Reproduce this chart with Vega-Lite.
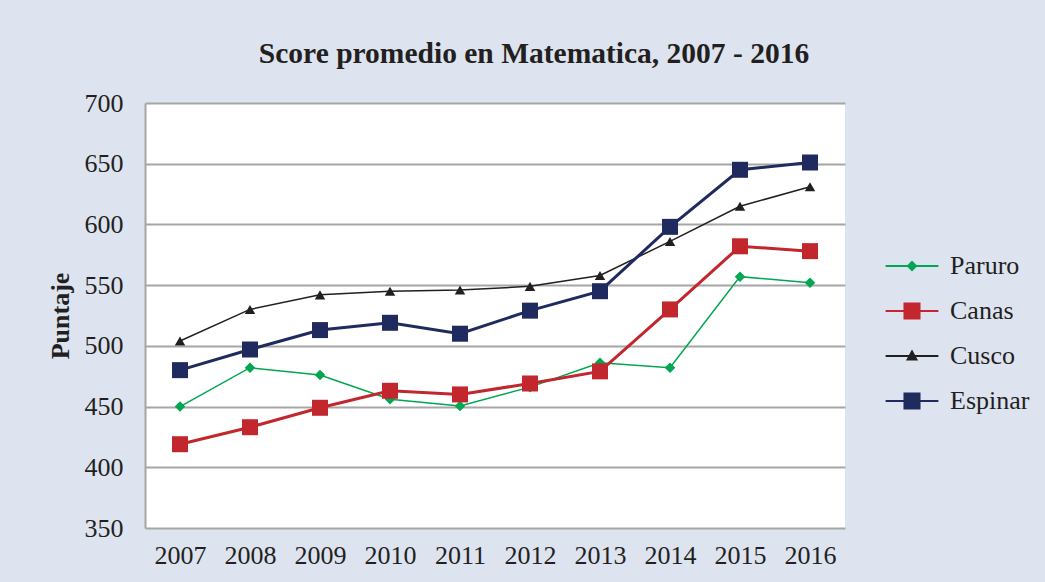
{
  "$schema": "https://vega.github.io/schema/vega-lite/v6.json",
  "width": 700,
  "height": 425,
  "autosize": {"type": "none"},
  "padding": {"left": 145, "top": 103, "right": 200, "bottom": 54},
  "background": "#dde4f0",
  "config": {
    "font": "Liberation Serif",
    "view": {"fill": "#ffffff", "stroke": null},
    "axis": {"labelFont": "Liberation Serif", "titleFont": "Liberation Serif", "labelColor": "#231f20", "titleColor": "#231f20"}
  },
  "title": {
    "text": "Score promedio en Matematica, 2007 - 2016",
    "fontSize": 29.5,
    "fontWeight": "bold",
    "font": "Liberation Serif",
    "color": "#231f20",
    "anchor": "middle",
    "dx": 39,
    "baseline": "alphabetic",
    "offset": -2
  },
  "data": {
    "values": [
      {"year": "2007", "region": "Paruro", "score": 450},
      {"year": "2008", "region": "Paruro", "score": 482},
      {"year": "2009", "region": "Paruro", "score": 476},
      {"year": "2010", "region": "Paruro", "score": 456},
      {"year": "2011", "region": "Paruro", "score": 450.5},
      {"year": "2012", "region": "Paruro", "score": 466},
      {"year": "2013", "region": "Paruro", "score": 486},
      {"year": "2014", "region": "Paruro", "score": 482},
      {"year": "2015", "region": "Paruro", "score": 557},
      {"year": "2016", "region": "Paruro", "score": 552},
      {"year": "2007", "region": "Canas", "score": 419},
      {"year": "2008", "region": "Canas", "score": 433},
      {"year": "2009", "region": "Canas", "score": 449},
      {"year": "2010", "region": "Canas", "score": 463},
      {"year": "2011", "region": "Canas", "score": 460},
      {"year": "2012", "region": "Canas", "score": 469},
      {"year": "2013", "region": "Canas", "score": 479},
      {"year": "2014", "region": "Canas", "score": 530},
      {"year": "2015", "region": "Canas", "score": 582},
      {"year": "2016", "region": "Canas", "score": 578},
      {"year": "2007", "region": "Cusco", "score": 504},
      {"year": "2008", "region": "Cusco", "score": 530},
      {"year": "2009", "region": "Cusco", "score": 542},
      {"year": "2010", "region": "Cusco", "score": 545},
      {"year": "2011", "region": "Cusco", "score": 546},
      {"year": "2012", "region": "Cusco", "score": 549},
      {"year": "2013", "region": "Cusco", "score": 558},
      {"year": "2014", "region": "Cusco", "score": 586},
      {"year": "2015", "region": "Cusco", "score": 615},
      {"year": "2016", "region": "Cusco", "score": 631},
      {"year": "2007", "region": "Espinar", "score": 480},
      {"year": "2008", "region": "Espinar", "score": 497},
      {"year": "2009", "region": "Espinar", "score": 513},
      {"year": "2010", "region": "Espinar", "score": 519},
      {"year": "2011", "region": "Espinar", "score": 510},
      {"year": "2012", "region": "Espinar", "score": 529},
      {"year": "2013", "region": "Espinar", "score": 545},
      {"year": "2014", "region": "Espinar", "score": 598},
      {"year": "2015", "region": "Espinar", "score": 645},
      {"year": "2016", "region": "Espinar", "score": 651}
    ]
  },
  "encoding": {
    "x": {
      "field": "year",
      "type": "ordinal",
      "scale": {"type": "point", "padding": 0.5},
      "axis": {"title": null, "labelAngle": 0, "labelFontSize": 26, "labelPadding": 14, "ticks": false, "domain": false, "grid": false}
    },
    "y": {
      "field": "score",
      "type": "quantitative",
      "scale": {"domain": [350, 700], "nice": false, "zero": false},
      "axis": {
        "title": "Puntaje",
        "titleFontSize": 26,
        "titleFontWeight": "bold",
        "titlePadding": 11,
        "values": [350, 400, 450, 500, 550, 600, 650, 700],
        "labelFontSize": 26,
        "labelPadding": 22,
        "ticks": false,
        "domain": true,
        "domainColor": "#a6a6a6",
        "domainWidth": 2,
        "grid": true,
        "gridColor": "#a6a6a6",
        "gridWidth": 2
      }
    },
    "color": {
      "field": "region",
      "type": "nominal",
      "scale": {"domain": ["Paruro", "Canas", "Cusco", "Espinar"], "range": ["#00a651", "#c1272d", "#231f20", "#1f2a5e"]},
      "legend": {
        "title": null,
        "orient": "none",
        "legendX": 754,
        "legendY": 150,
        "padding": 0,
        "labelFontSize": 26,
        "labelFont": "Liberation Serif",
        "labelColor": "#231f20",
        "labelOffset": 25,
        "rowPadding": 19,
        "symbolSize": 256,
        "symbolOpacity": 1,
        "symbolStrokeWidth": 2,
        "symbolType": {"expr": "datum.value === 'Paruro' ? 'M-3.3,0L3.3,0M0,-0.5L0.5,0L0,0.5L-0.5,0Z' : datum.value === 'Cusco' ? 'M-3.3,0L3.3,0M0,-0.55L0.55,0.45L-0.55,0.45Z' : 'M-3.3,0L3.3,0M-0.94,-0.94L0.94,-0.94L0.94,0.94L-0.94,0.94Z'"},
        "symbolStrokeColor": {"expr": "scale('color', datum.value)"},
        "symbolFillColor": {"expr": "scale('color', datum.value)"}
      }
    }
  },
  "layer": [
    {
      "transform": [{"filter": {"field": "region", "oneOf": ["Paruro", "Cusco"]}}],
      "mark": {"type": "line", "strokeWidth": 1.5},
      "encoding": {}
    },
    {
      "transform": [{"filter": {"field": "region", "oneOf": ["Canas", "Espinar"]}}],
      "mark": {"type": "line", "strokeWidth": 3},
      "encoding": {}
    },
    {
      "transform": [{"filter": {"field": "region", "oneOf": ["Paruro", "Cusco"]}}],
      "mark": {"type": "point", "filled": true, "opacity": 1, "size": 110},
      "encoding": {
        "shape": {
          "field": "region",
          "type": "nominal",
          "scale": {"range": ["square", "triangle-up", "square", "diamond"]},
          "legend": null
        }
      }
    },
    {
      "transform": [{"filter": {"field": "region", "oneOf": ["Canas", "Espinar"]}}],
      "mark": {"type": "point", "filled": true, "opacity": 1, "size": 256},
      "encoding": {
        "shape": {
          "field": "region",
          "type": "nominal",
          "legend": null
        }
      }
    }
  ]
}
